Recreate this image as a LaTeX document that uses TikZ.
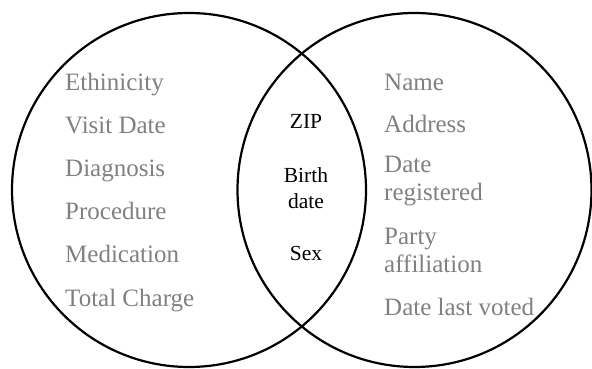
\documentclass[tikz,border=0pt]{standalone}
\usepackage{fontspec}
\setmainfont{Liberation Serif}
\definecolor{fieldgray}{RGB}{128,128,128}
\begin{document}
\begin{tikzpicture}[x=1pt,y=1pt,
  setcircle/.style={circle,draw=black,line width=2.2pt,minimum size=354pt,inner sep=0pt},
  sidefield/.style={text=fieldgray,font=\fontsize{25}{28}\selectfont,anchor=base west,inner sep=0pt,align=left},
  sharedfield/.style={text=black,font=\fontsize{21.5}{26.5}\selectfont,anchor=base,inner sep=0pt,align=center}]
\useasboundingbox (0,0) rectangle (592,369);
% the two record sets
\node[setcircle] (medical) at (189,179) {};
\node[setcircle] (voter) at (414.5,179) {};
% fields found only in the medical data
\node[sidefield] (eth) at (65,278) {Ethinicity};
\node[sidefield] (visit) at (65,235) {Visit Date};
\node[sidefield] (diag) at (65,192) {Diagnosis};
\node[sidefield] (proc) at (65,149) {Procedure};
\node[sidefield] (med) at (65,106) {Medication};
\node[sidefield] (charge) at (65,62) {Total Charge};
% fields shared by both (base anchor = baseline of the last line)
\node[sharedfield] (zip) at (306,240) {ZIP};
\node[sharedfield] (birth) at (306,160) {Birth\\date};
\node[sharedfield] (sex) at (306,108) {Sex};
% fields found only in the voter list
\node[sidefield] (name) at (384,278) {Name};
\node[sidefield] (addr) at (384,236) {Address};
\node[sidefield] (reg) at (384,168) {Date\\registered};
\node[sidefield] (party) at (384,96) {Party\\affiliation};
\node[sidefield] (voted) at (384,53) {Date last voted};
\end{tikzpicture}
\end{document}
